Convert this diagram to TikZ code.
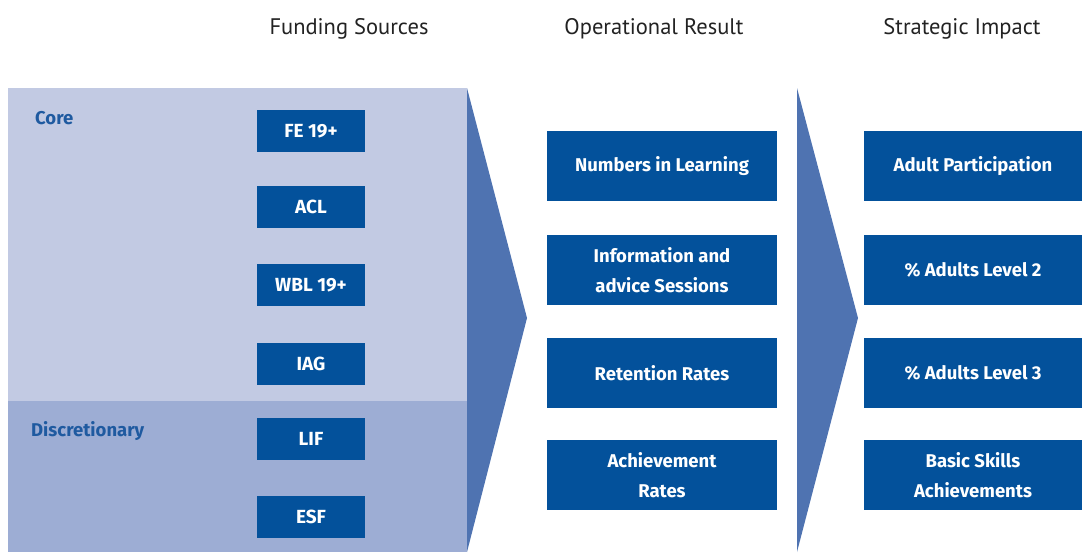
\documentclass[tikz,border=0pt]{standalone}
\usepackage{fontspec}
\setmainfont{Fira Sans}
\newfontfamily\headfont{PT Sans}
\definecolor{boxblue}{HTML}{03519B}
\definecolor{corebg}{HTML}{C2CAE3}
\definecolor{discbg}{HTML}{9DADD4}
\definecolor{arrowblue}{HTML}{4F73B1}
\definecolor{labelblue}{HTML}{1F5AA0}
\definecolor{headgray}{HTML}{222222}
\begin{document}
\begin{tikzpicture}[x=1pt,y=-1pt,
  fundbox/.style={fill=boxblue,text=white,font=\fontsize{19}{22}\selectfont\bfseries,
    minimum width=108pt,minimum height=42pt,inner sep=0pt,align=center},
  resbox/.style={fill=boxblue,text=white,font=\fontsize{18.5}{29.5}\selectfont\bfseries,
    minimum width=230pt,minimum height=70pt,inner sep=0pt,align=center},
  impbox/.style={resbox,minimum width=218pt},
  heading/.style={text=headgray,font=\headfont\fontsize{22.5}{26}\selectfont,inner sep=0pt},
  grouplabel/.style={text=labelblue,font=\fontsize{18.5}{22}\selectfont\bfseries,inner sep=0pt,anchor=west}]
\useasboundingbox (0,0) rectangle (1082,552);

% background panels of the funding column
\fill[corebg] (8,88) rectangle (467,401);
\fill[discbg] (8,401) rectangle (467,552);

% arrow-shaped wedges between columns
\fill[arrowblue] (467,88) -- (527,318) -- (467,552) -- cycle;
\fill[arrowblue] (797,88) -- (858,318) -- (797,552) -- cycle;

% column headings
\node[heading] (h1) at (349,29) {Funding Sources};
\node[heading] (h2) at (654,29) {Operational Result};
\node[heading] (h3) at (962,29) {Strategic Impact};

% group labels
\node[grouplabel] (core) at (35,118) {Core};
\node[grouplabel] (disc) at (31,431) {Discretionary};

% funding sources
\node[fundbox] (fe)  at (311,131) {FE 19+};
\node[fundbox] (acl) at (311,207) {ACL};
\node[fundbox] (wbl) at (311,285) {WBL 19+};
\node[fundbox] (iag) at (311,364) {IAG};
\node[fundbox] (lif) at (311,439) {LIF};
\node[fundbox] (esf) at (311,517) {ESF};

% operational results
\node[resbox] (num) at (662,166) {Numbers in Learning};
\node[resbox] (inf) at (662,270) {Information and\\advice Sessions};
\node[resbox] (ret) at (662,373) {Retention Rates};
\node[resbox] (ach) at (662,475) {Achievement\\Rates};

% strategic impact
\node[impbox] (adp) at (973,166) {Adult Participation};
\node[impbox] (l2)  at (973,270) {\% Adults Level 2};
\node[impbox] (l3)  at (973,373) {\% Adults Level 3};
\node[impbox] (bsa) at (973,475) {Basic Skills\\Achievements};
\end{tikzpicture}
\end{document}
